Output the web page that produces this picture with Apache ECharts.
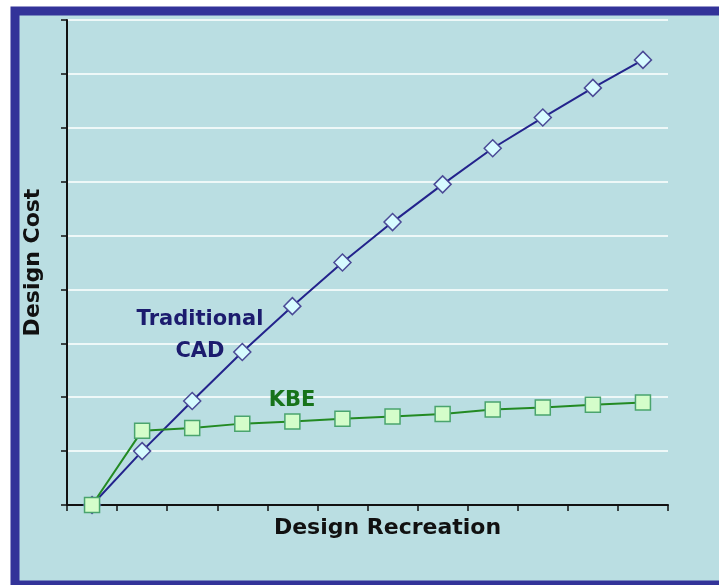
<!DOCTYPE html>
<html>
<head>
<meta charset="utf-8">
<script src="https://cdn.jsdelivr.net/npm/echarts@6/dist/echarts.min.js"></script>
<style>
html,body{margin:0;padding:0;background:#ffffff;}
#chart{width:719px;height:585px;}
</style>
</head>
<body>
<div id="chart"></div>
<script>
var categories = ['1','2','3','4','5','6','7','8','9','10','11','12'];
var traditionalCAD = [0, 1.00, 1.93, 2.84, 3.69, 4.50, 5.25, 5.95, 6.62, 7.19, 7.74, 8.26];
var kbe = [0, 1.38, 1.43, 1.51, 1.55, 1.60, 1.64, 1.69, 1.77, 1.81, 1.86, 1.90];
var yTicks = [0, 1, 2, 3, 4, 5, 6, 7, 8, 9];

var chart = echarts.init(document.getElementById('chart'), null, {renderer: 'canvas'});
var font = 'DejaVu Sans';
chart.setOption({
  animation: false,
  backgroundColor: '#ffffff',
  graphic: [
    {type: 'rect', z: -100, silent: true,
     shape: {x: 15, y: 11, width: 720, height: 574},
     style: {fill: '#badee2', stroke: '#333399', lineWidth: 9}},
    {type: 'text', z: 100, x: 200, y: 336,
     style: {text: 'Traditional\nCAD', fill: '#1c1c6e', font: 'bold 21px "' + font + '"',
             align: 'center', verticalAlign: 'middle', lineHeight: 32}},
    {type: 'text', z: 100, x: 292, y: 401,
     style: {text: 'KBE', fill: '#17731a', font: 'bold 21px "' + font + '"',
             align: 'center', verticalAlign: 'middle'}}
  ],
  grid: {left: 67, right: 51, top: 20, bottom: 80},
  xAxis: {
    type: 'category',
    data: categories,
    boundaryGap: true,
    name: 'Design Recreation',
    nameLocation: 'middle',
    nameGap: 12,
    nameTextStyle: {fontFamily: font, fontWeight: 'bold', fontSize: 22, color: '#111',
                    verticalAlign: 'top', padding: [0, 0, 0, 40]},
    axisLine: {lineStyle: {color: '#111', width: 2}},
    axisTick: {show: true, inside: false, length: 6, lineStyle: {color: '#111', width: 1.5}},
    axisLabel: {show: false},
    splitLine: {show: false}
  },
  yAxis: {
    type: 'value',
    min: yTicks[0],
    max: yTicks[yTicks.length - 1],
    interval: 1,
    name: 'Design Cost',
    nameLocation: 'middle',
    nameGap: 23,
    nameRotate: 90,
    nameTextStyle: {fontFamily: font, fontWeight: 'bold', fontSize: 22, color: '#111'},
    axisLine: {show: true, lineStyle: {color: '#111', width: 2}},
    axisTick: {show: true, inside: false, length: 6, lineStyle: {color: '#111', width: 1.5}},
    axisLabel: {show: false},
    splitLine: {show: true, lineStyle: {color: '#eef8f8', width: 2}}
  },
  series: [
    {
      name: 'Traditional CAD',
      type: 'line',
      data: traditionalCAD,
      clip: false,
      symbol: 'diamond',
      symbolSize: 17,
      lineStyle: {color: '#23238c', width: 2},
      itemStyle: {color: '#d6fbff', borderColor: '#4a4a96', borderWidth: 1.5}
    },
    {
      name: 'KBE',
      type: 'line',
      data: kbe,
      clip: false,
      symbol: 'rect',
      symbolSize: 15,
      lineStyle: {color: '#238a23', width: 2},
      itemStyle: {color: '#d4fdca', borderColor: '#4aa46e', borderWidth: 1.5}
    }
  ]
});
</script>
</body>
</html>
